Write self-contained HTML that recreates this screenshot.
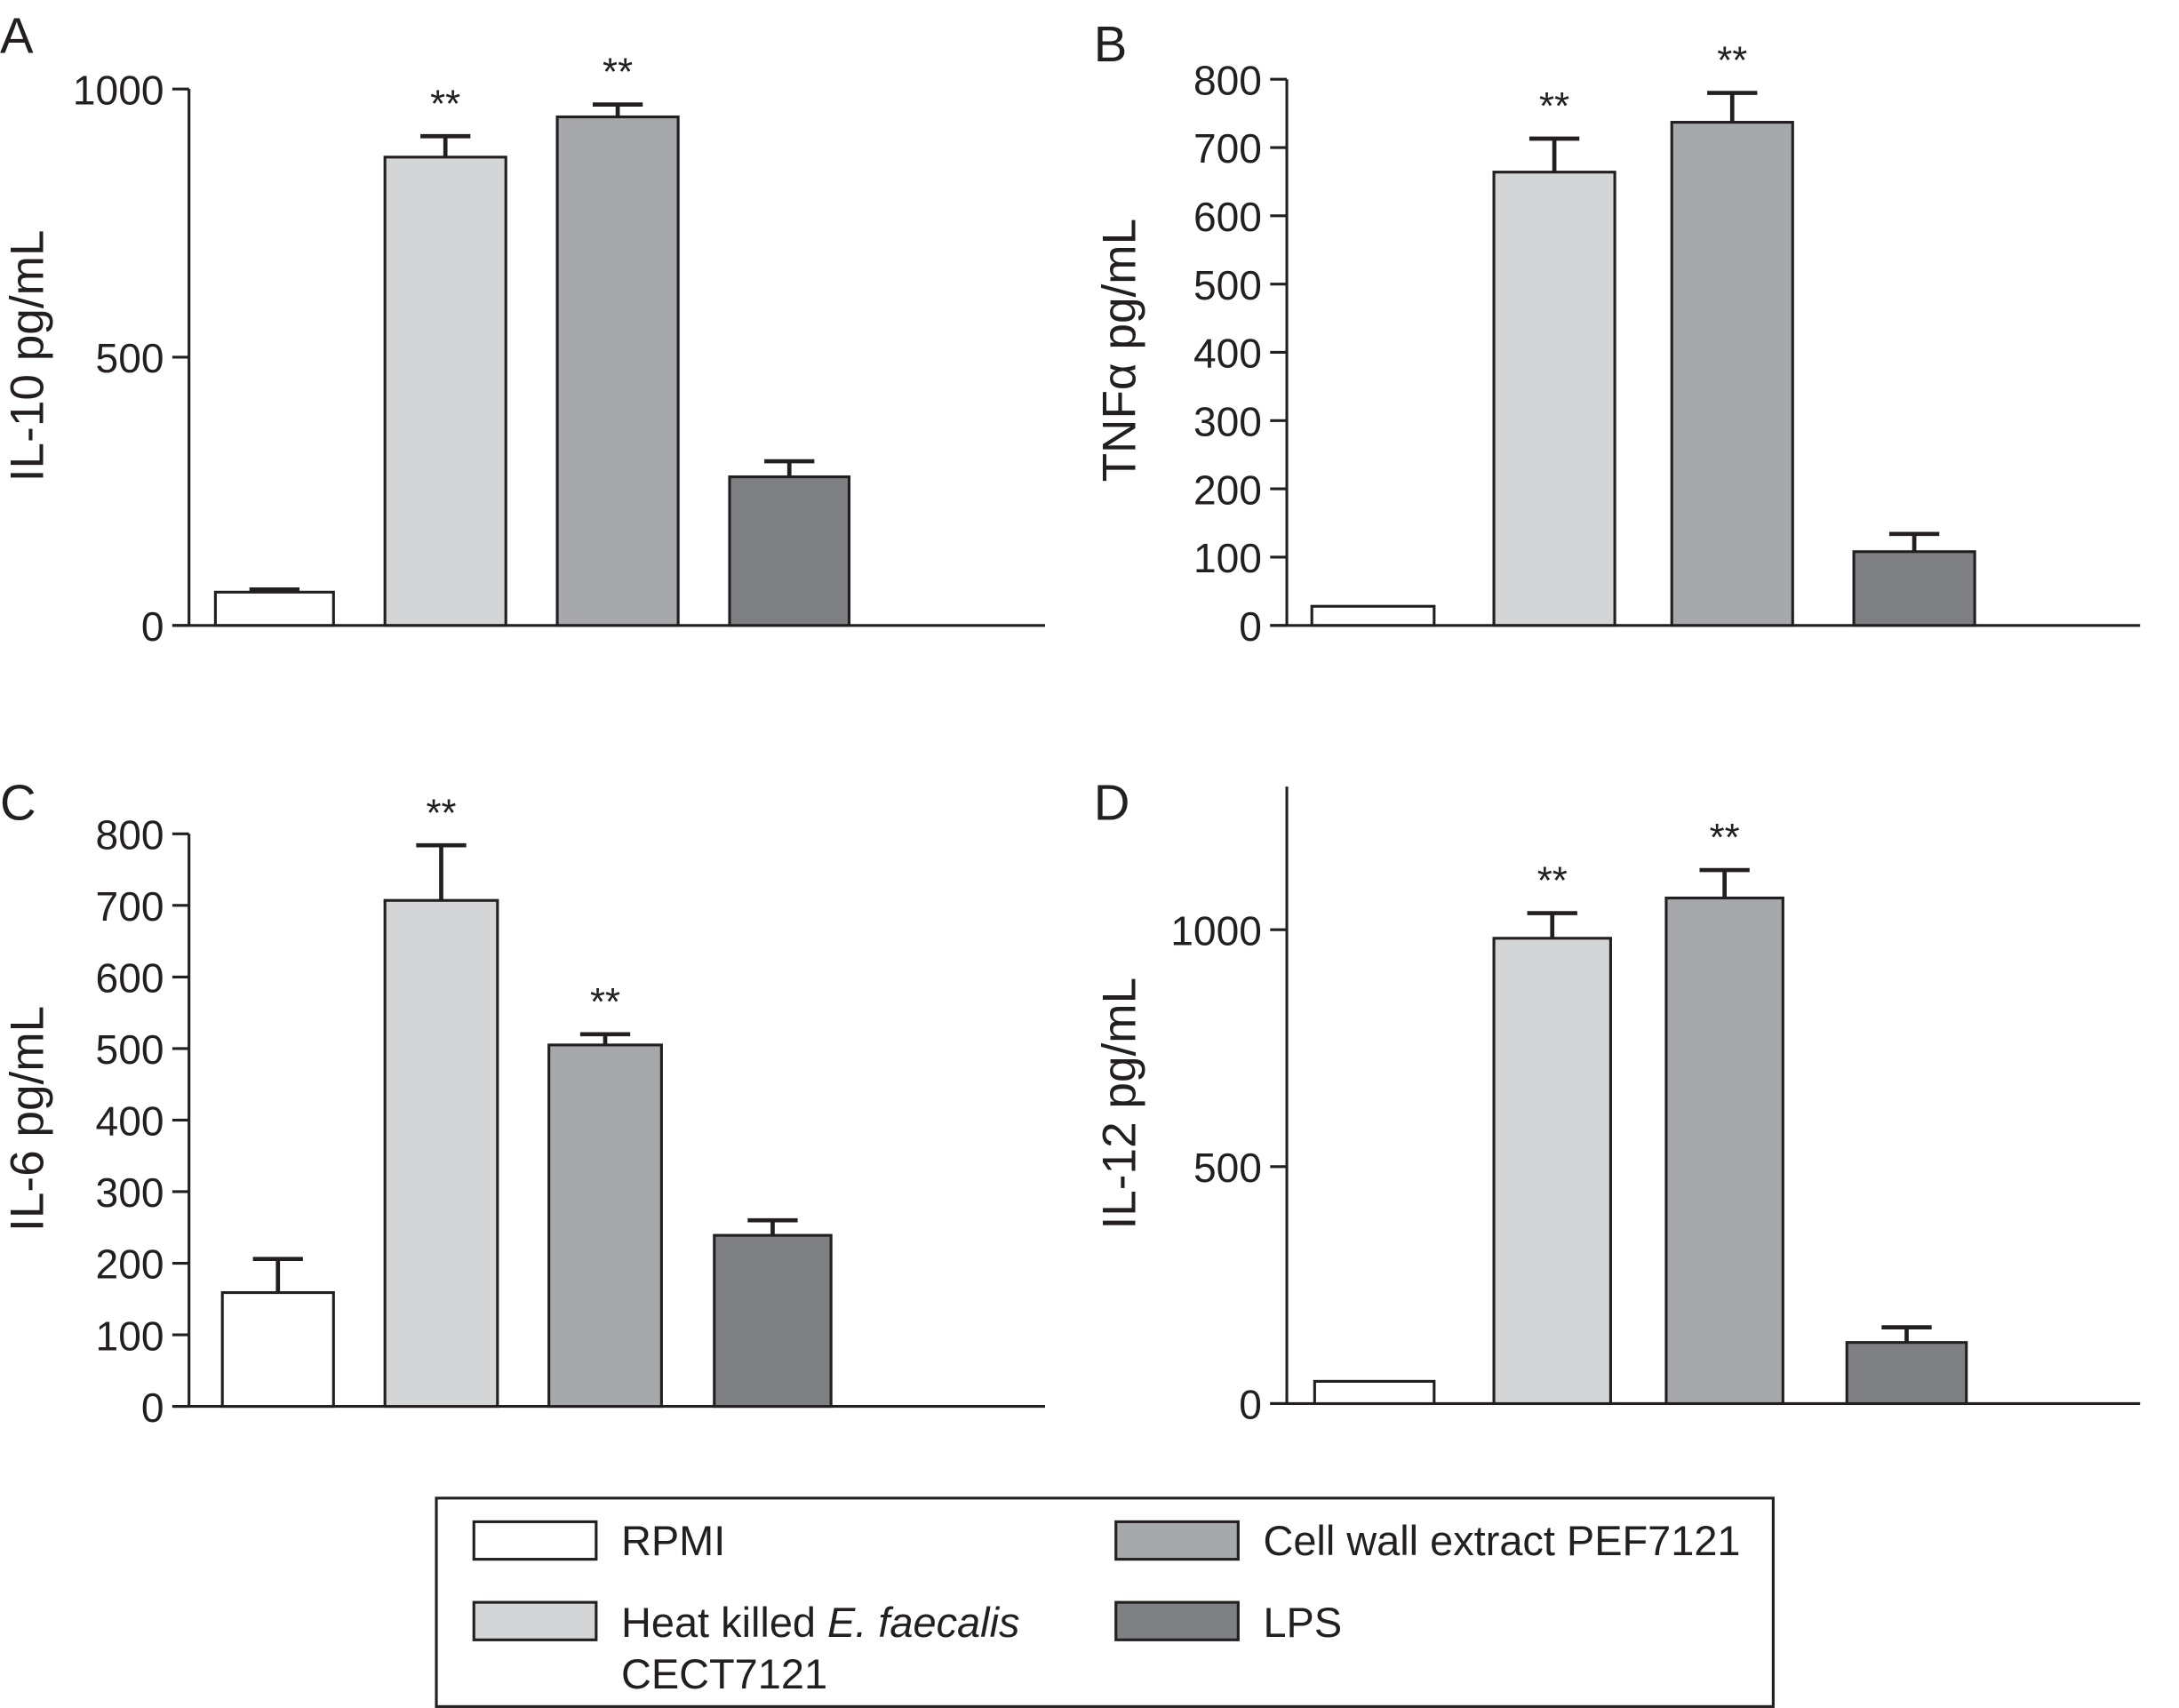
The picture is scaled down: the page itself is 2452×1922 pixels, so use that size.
<!DOCTYPE html>
<html><head><meta charset="utf-8"><style>
html,body{margin:0;padding:0;background:#fff}
svg{display:block}
text{font-family:"Liberation Sans",sans-serif;fill:#231f20}
</style></head><body>
<svg id="fig" width="2452" height="1922" viewBox="0 0 1568 1229" xmlns="http://www.w3.org/2000/svg"></svg>
<script>
const categories=["RPMI","Heat killed E. faecalis CECT7121","Cell wall extract PEF7121","LPS"];
const colors=["#ffffff","#d4d5d7","#a7a8ab","#7f8084"];
const valuesA=[62,873,948,277];
const errorsA=[5,39,23,29];
const sigA=[false,true,true,false];
const ticksA=[0,500,1000];
const valuesB=[28,664,737,108];
const errorsB=[0,49,43,26];
const sigB=[false,true,true,false];
const ticksB=[0,100,200,300,400,500,600,700,800];
const valuesC=[159,707,505,239];
const errorsC=[47,77,15,21];
const sigC=[false,true,true,false];
const ticksC=[0,100,200,300,400,500,600,700,800];
const valuesD=[47,982,1067,129];
const errorsD=[0,53,59,32];
const sigD=[false,true,true,false];
const ticksD=[0,500,1000];

const NS="http://www.w3.org/2000/svg";
const svg=document.getElementById("fig");
function mk(tag,attrs,parent){const e=document.createElementNS(NS,tag);for(const k in attrs)e.setAttribute(k,attrs[k]);(parent||svg).appendChild(e);return e;}

const panels=[
 {id:"a",letter:"A",lx:0,ly:38,ax:136,y0:450,yTop:64,vTop:1000,axTop:64,axEnd:752,bars:[[155,240],[277,364],[401,488],[525,611]],vals:valuesA,errs:errorsA,sig:sigA,ticks:ticksA,label:"IL-10 pg/mL",labX:31,labY:256},
 {id:"b",letter:"B",lx:787,ly:44,ax:926,y0:450,yTop:57,vTop:800,axTop:57,axEnd:1540,bars:[[944,1032],[1075,1162],[1203,1290],[1334,1421]],vals:valuesB,errs:errorsB,sig:sigB,ticks:ticksB,label:"TNFα pg/mL",labX:817,labY:252},
 {id:"c",letter:"C",lx:0,ly:590,ax:136,y0:1012,yTop:600,vTop:800,axTop:600,axEnd:752,bars:[[160,240],[277,358],[395,476],[514,598]],vals:valuesC,errs:errorsC,sig:sigC,ticks:ticksC,label:"IL-6 pg/mL",labX:31,labY:805},
 {id:"d",letter:"D",lx:787,ly:590,ax:926,y0:1010,yTop:669,vTop:1000,axTop:566,axEnd:1540,bars:[[946,1032],[1075,1159],[1199,1283],[1329,1415]],vals:valuesD,errs:errorsD,sig:sigD,ticks:ticksD,label:"IL-12 pg/mL",labX:817,labY:794}
];

panels.forEach(p=>{
 const g=mk("g",{});
 
 
 const y=v=>p.y0-(v/p.vTop)*(p.y0-p.yTop);
 const L=mk("text",{x:p.lx,y:p.ly,"font-size":36},g);L.textContent=p.letter;
 
 
 const ya=mk("line",{x1:p.ax,y1:p.axTop,x2:p.ax,y2:p.y0,stroke:"#231f20","stroke-width":2},g);
 
 
 const xa=mk("line",{x1:p.ax-12,y1:p.y0,x2:p.axEnd,y2:p.y0,stroke:"#231f20","stroke-width":2},g);
 
 
 p.ticks.forEach(t=>{
  mk("line",{x1:p.ax-12,y1:y(t),x2:p.ax,y2:y(t),stroke:"#231f20","stroke-width":2},g);
  const tt=mk("text",{x:p.ax-18,y:y(t)+11,"font-size":29.5,"text-anchor":"end"},g);tt.textContent=t;
  
  
 });
 const lab=mk("text",{transform:`translate(${p.labX},${p.labY}) rotate(-90)`,"font-size":34,"text-anchor":"middle"},g);
 lab.textContent=p.label;
 
 
 p.vals.forEach((v,i)=>{
  const [x1,x2]=p.bars[i];const cx=(x1+x2)/2;
  const top=y(v+p.errs[i]);
  if(p.errs[i]>0){
   mk("line",{x1:cx,y1:y(v),x2:cx,y2:top,stroke:"#231f20","stroke-width":3},g);
   mk("line",{x1:cx-18,y1:top,x2:cx+18,y2:top,stroke:"#231f20","stroke-width":3},g);
  }
  const r=mk("rect",{x:x1,y:y(v),width:x2-x1,height:p.y0-y(v),fill:colors[i],stroke:"#231f20","stroke-width":2},g);
  
  
  if(p.sig[i]){
   const s=mk("text",{x:cx,y:top-14,"font-size":28,"text-anchor":"middle"},g);s.textContent="**";
   
   
  }
 });
});

// legend
const lg=mk("g",{});


mk("rect",{x:314,y:1078,width:962,height:150,fill:"#fff",stroke:"#231f20","stroke-width":2},lg);
const items=[[341,1095,447,1119,0],[341,1153,447,1178,1],[803,1095,909,1119,2],[803,1153,909,1178,3]];
items.forEach(it=>{
 const sw=mk("rect",{x:it[0],y:it[1],width:88,height:27,fill:colors[it[4]],stroke:"#231f20","stroke-width":2},lg);
 
 
 const t=mk("text",{x:it[2],y:it[3],"font-size":30},lg);
 
 
 if(it[4]===1){
  t.innerHTML='Heat killed <tspan font-style="italic">E. faecalis</tspan>';
  const t2=mk("text",{x:it[2],y:it[3]+37,"font-size":30},lg);t2.textContent="CECT7121";
  
  
 } else t.textContent=categories[it[4]];
});
</script>
</body></html>
